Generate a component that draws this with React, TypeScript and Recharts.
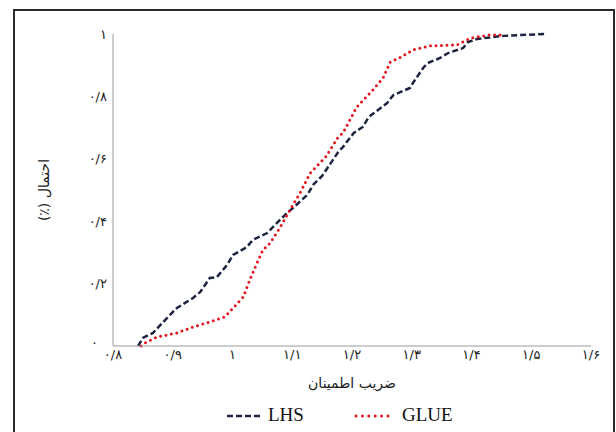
import { LineChart, Line, XAxis, YAxis, Legend } from 'recharts'

const LHS_X = [
  0.842, 0.85, 0.867, 0.895, 0.907, 0.934, 0.946, 0.962, 0.974, 0.991, 1.001, 1.024, 1.034,
  1.058, 1.074, 1.091, 1.101, 1.125, 1.136, 1.15, 1.177, 1.185, 1.203, 1.218, 1.228, 1.259,
  1.269, 1.297, 1.302, 1.319, 1.327, 1.347, 1.361, 1.386, 1.394, 1.409, 1.453, 1.523,
]
const LHS_Y = [
  0, 0.026, 0.042, 0.099, 0.122, 0.154, 0.173, 0.218, 0.221, 0.26, 0.292, 0.317, 0.34,
  0.362, 0.394, 0.426, 0.442, 0.484, 0.519, 0.545, 0.622, 0.638, 0.683, 0.702, 0.734, 0.779,
  0.804, 0.827, 0.843, 0.891, 0.907, 0.923, 0.939, 0.955, 0.974, 0.984, 0.994, 1,
]

const GLUE_X = [
  0.847, 0.854, 0.874, 0.907, 0.934, 0.962, 0.987, 1.001, 1.018, 1.029, 1.041, 1.051, 1.063,
  1.079, 1.096, 1.113, 1.13, 1.156, 1.177, 1.185, 1.208, 1.235, 1.252, 1.264, 1.282, 1.302,
  1.331, 1.376, 1.398, 1.431, 1.448,
]
const GLUE_Y = [
  0, 0.01, 0.029, 0.042, 0.061, 0.077, 0.093, 0.122, 0.157, 0.212, 0.266, 0.308, 0.33,
  0.378, 0.436, 0.49, 0.554, 0.606, 0.67, 0.683, 0.766, 0.821, 0.859, 0.91, 0.926, 0.949,
  0.962, 0.965, 0.987, 0.997, 0.997,
]

const X_TICKS = [0.8, 0.9, 1, 1.1, 1.2, 1.3, 1.4, 1.5, 1.6]
const Y_TICKS = [0, 0.2, 0.4, 0.6, 0.8, 1]

const X_TITLE = 'ضریب اطمینان'
const Y_TITLE = 'احتمال (٪)'

const NAVY = '#1d2440'
const RED = '#e3161f'
const FA_DIGITS = '۰۱۲۳۴۵۶۷۸۹'
const FA_FONT = '"DejaVu Sans", sans-serif'
const LATIN_FONT = '"Liberation Serif", "DejaVu Serif", serif'

const lhsData = LHS_X.map((x, i) => ({ x, y: LHS_Y[i] }))
const glueData = GLUE_X.map((x, i) => ({ x, y: GLUE_Y[i] }))

// 0.8 -> ۰/۸
const toFa = (v: number) =>
  String(Math.round(v * 10) / 10)
    .replace(/\d/g, (d) => FA_DIGITS[Number(d)])
    .replace('.', '/')

// y tick; the zero label sits a bit left and up so it clears the x labels
function YTick(props: any) {
  const { x, y, payload } = props
  const isZero = payload.value === 0
  return (
    <text
      x={x - (isZero ? 9 : 0)}
      y={y - (isZero ? 4 : 0)}
      textAnchor="end"
      dominantBaseline="central"
      style={{ fontSize: 13, fill: '#222', fontFamily: FA_FONT }}
    >
      {toFa(payload.value)}
    </text>
  )
}

function LegendBox() {
  return (
    <div
      style={{
        display: 'flex',
        alignItems: 'center',
        paddingLeft: 227,
        fontFamily: LATIN_FONT,
        fontSize: 19,
        color: '#111',
        height: 26,
      }}
    >
      <svg width={36} height={10}>
        <line x1={0} y1={6} x2={36} y2={6} stroke={NAVY} strokeWidth={2.5} strokeDasharray="6 3" />
      </svg>
      <span style={{ marginLeft: 5 }}>LHS</span>
      <svg width={38} height={10} style={{ marginLeft: 50 }}>
        <line
          x1={2}
          y1={6}
          x2={38}
          y2={6}
          stroke={RED}
          strokeWidth={3}
          strokeDasharray="0 6.4"
          strokeLinecap="round"
        />
      </svg>
      <span style={{ marginLeft: 10 }}>GLUE</span>
    </div>
  )
}

export default function App() {
  return (
    <div
      style={{
        position: 'fixed',
        left: 0,
        top: 0,
        width: 616,
        height: 432,
        overflow: 'hidden',
        background: '#fff',
      }}
    >
      <div
        style={{
          position: 'absolute',
          left: 13,
          top: 9,
          width: 602,
          height: 440,
          border: '2px solid #2a2a2a',
          boxSizing: 'border-box',
        }}
      />
      <div style={{ position: 'absolute', left: 0, top: 0 }}>
        <LineChart width={616} height={432} margin={{ top: 34, right: 25, left: 0, bottom: 4 }}>
          <XAxis
            type="number"
            dataKey="x"
            domain={[0.8, 1.6]}
            ticks={X_TICKS}
            tickFormatter={toFa}
            tickLine={false}
            tickSize={0}
            tickMargin={4}
            interval={0}
            height={56}
            stroke="#9a9a9a"
            tick={{ fontSize: 13, fill: '#222', fontFamily: FA_FONT }}
            label={{
              value: X_TITLE,
              position: 'insideBottom',
              offset: 14,
              style: { fontSize: 14, fill: '#222', fontFamily: FA_FONT },
            }}
          />
          <YAxis
            type="number"
            domain={[0, 1]}
            ticks={Y_TICKS}
            tickLine={false}
            tickSize={0}
            tickMargin={6}
            width={113}
            stroke="#9a9a9a"
            tick={<YTick />}
            label={{
              content: (props: any) => {
                const vb = props.viewBox || { x: 0, y: 34, width: 113, height: 312 }
                const cx = vb.x + 44
                const cy = vb.y + vb.height / 2
                return (
                  <text
                    x={cx}
                    y={cy}
                    transform={`rotate(-90 ${cx} ${cy})`}
                    textAnchor="middle"
                    dominantBaseline="central"
                    direction="rtl"
                    style={{ fontSize: 14, fill: '#222', fontFamily: FA_FONT, unicodeBidi: 'embed' }}
                  >
                    {Y_TITLE}
                  </text>
                )
              },
            }}
          />
          <Legend
            verticalAlign="bottom"
            height={26}
            content={() => <LegendBox />}
            wrapperStyle={{ left: 0, width: 616 }}
          />
          <Line
            data={lhsData}
            dataKey="y"
            name="LHS"
            type="linear"
            stroke={NAVY}
            strokeWidth={2.5}
            strokeDasharray="6 3"
            dot={false}
            activeDot={false}
            isAnimationActive={false}
          />
          <Line
            data={glueData}
            dataKey="y"
            name="GLUE"
            type="linear"
            stroke={RED}
            strokeWidth={3}
            strokeDasharray="0 5.5"
            strokeLinecap="round"
            dot={false}
            activeDot={false}
            isAnimationActive={false}
          />
        </LineChart>
      </div>
    </div>
  )
}
